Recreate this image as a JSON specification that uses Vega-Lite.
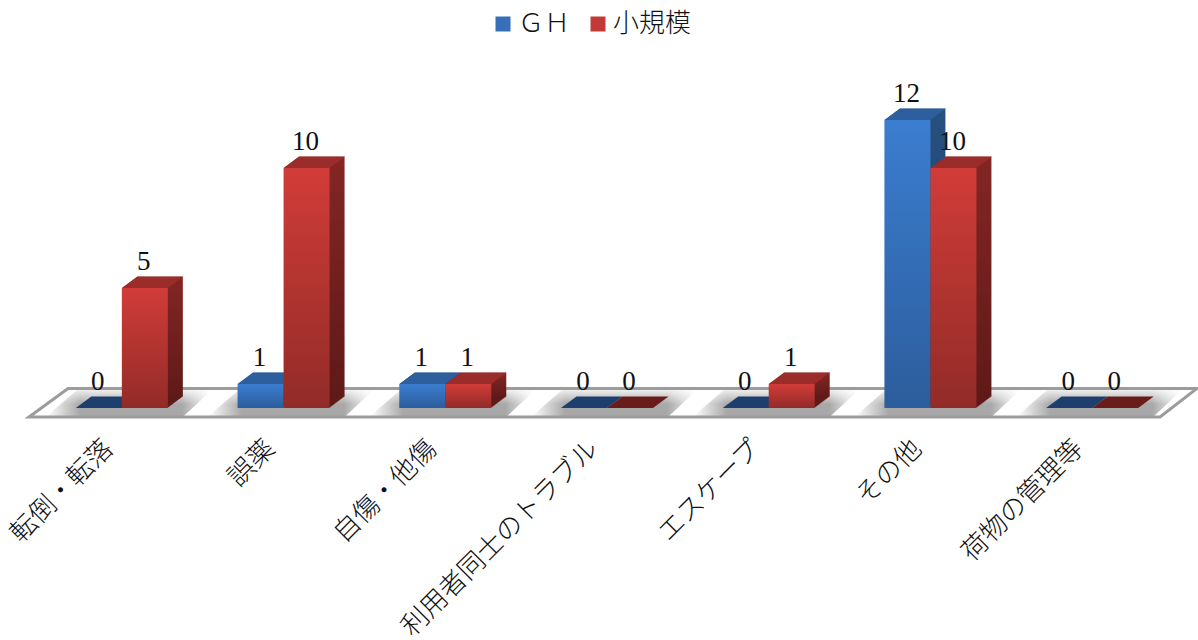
{"$schema":"https://vega.github.io/schema/vega-lite/v6.json","width":1132,"height":348,"autosize":{"type":"none"},"padding":{"left":41,"top":60,"right":25,"bottom":232},"background":"white","config":{"view":{"stroke":null}},"datasets":{"d":[{"c":"転倒・転落","s":"ＧＨ","v":0},{"c":"転倒・転落","s":"小規模","v":5},{"c":"誤薬","s":"ＧＨ","v":1},{"c":"誤薬","s":"小規模","v":10},{"c":"自傷・他傷","s":"ＧＨ","v":1},{"c":"自傷・他傷","s":"小規模","v":1},{"c":"利用者同士のトラブル","s":"ＧＨ","v":0},{"c":"利用者同士のトラブル","s":"小規模","v":0},{"c":"エスケープ","s":"ＧＨ","v":0},{"c":"エスケープ","s":"小規模","v":1},{"c":"その他","s":"ＧＨ","v":12},{"c":"その他","s":"小規模","v":10},{"c":"荷物の管理等","s":"ＧＨ","v":0},{"c":"荷物の管理等","s":"小規模","v":0}],"floor":[{"c":"利用者同士のトラブル","v":0}]},"data":{"name":"d"},"encoding":{"x":{"field":"c","type":"nominal","sort":null,"scale":{"domain":["転倒・転落","誤薬","自傷・他傷","利用者同士のトラブル","エスケープ","その他","荷物の管理等"],"paddingInner":0.431,"paddingOuter":0.2155},"axis":{"title":null,"domain":false,"ticks":false,"labelAngle":-45,"labelAlign":"right","labelBaseline":"middle","labelPadding":36,"labelOffset":-13,"labelFont":"Noto Sans CJK JP","labelFontSize":26.5,"labelFontWeight":300,"labelColor":"#111","labelLimit":400}},"y":{"field":"v","type":"quantitative","scale":{"domain":[0,14.5]},"axis":null},"xOffset":{"field":"s","type":"nominal","sort":["ＧＨ","小規模"],"scale":{"domain":["ＧＨ","小規模"]}}},"layer":[{"data":{"name":"floor"},"mark":{"type":"point","shape":"M-578,9L-539,-19.5L590,-19.5L553,9Z","size":4,"filled":true,"fill":"#fff","stroke":null,"opacity":1},"encoding":{"xOffset":{"value":46}}},{"transform":[{"filter":"datum.s=='ＧＨ'"}],"mark":{"type":"point","shape":"M-75,8L-45,-18L90,-18L62,8Z","size":4,"filled":true,"stroke":null,"opacity":1,"fill":{"gradient":"linear","x1":0,"y1":0,"x2":1,"y2":0,"stops":[{"offset":0,"color":"#ffffff"},{"offset":0.2,"color":"#a8a8a8"},{"offset":0.82,"color":"#a8a8a8"},{"offset":1,"color":"#ffffff"}]}},"encoding":{"xOffset":{"value":46},"y":{"datum":0,"type":"quantitative","scale":{"domain":[0,14.5]}}}},{"data":{"name":"floor"},"mark":{"type":"point","shape":"M-578,9L-539,-19.5L590,-19.5L553,9Z","size":4,"filled":true,"stroke":null,"opacity":1,"fill":{"gradient":"linear","x1":0,"y1":0,"x2":0,"y2":1,"stops":[{"offset":0,"color":"rgba(255,255,255,0.9)"},{"offset":0.55,"color":"rgba(255,255,255,0)"},{"offset":1,"color":"rgba(255,255,255,0)"}]}},"encoding":{"xOffset":{"value":46}}},{"data":{"name":"floor"},"mark":{"type":"point","shape":"M-578,9L-539,-19.5L590,-19.5L553,9Z","size":4,"filled":false,"stroke":"#9c9c9c","strokeWidth":3,"opacity":1,"fill":null},"encoding":{"xOffset":{"value":46}}},{"transform":[{"filter":"datum.s=='ＧＨ'&&datum.v>0"}],"encoding":{"fill":{"value":{"gradient":"linear","x1":0,"y1":0,"x2":0,"y2":1,"stops":[{"offset":0,"color":"#27507f"},{"offset":1,"color":"#1f4270"}]}}},"layer":[{"mark":{"type":"bar","width":46,"yOffset":-0.75},"encoding":{"xOffset":{"value":24}}},{"mark":{"type":"bar","width":46,"yOffset":-1.5},"encoding":{"xOffset":{"value":25}}},{"mark":{"type":"bar","width":46,"yOffset":-2.25},"encoding":{"xOffset":{"value":26}}},{"mark":{"type":"bar","width":46,"yOffset":-3},"encoding":{"xOffset":{"value":27}}},{"mark":{"type":"bar","width":46,"yOffset":-3.75},"encoding":{"xOffset":{"value":28}}},{"mark":{"type":"bar","width":46,"yOffset":-4.5},"encoding":{"xOffset":{"value":29}}},{"mark":{"type":"bar","width":46,"yOffset":-5.25},"encoding":{"xOffset":{"value":30}}},{"mark":{"type":"bar","width":46,"yOffset":-6},"encoding":{"xOffset":{"value":31}}},{"mark":{"type":"bar","width":46,"yOffset":-6.75},"encoding":{"xOffset":{"value":32}}},{"mark":{"type":"bar","width":46,"yOffset":-7.5},"encoding":{"xOffset":{"value":33}}},{"mark":{"type":"bar","width":46,"yOffset":-8.25},"encoding":{"xOffset":{"value":34}}},{"mark":{"type":"bar","width":46,"yOffset":-9},"encoding":{"xOffset":{"value":35}}},{"mark":{"type":"bar","width":46,"yOffset":-9.75},"encoding":{"xOffset":{"value":36}}},{"mark":{"type":"bar","width":46,"yOffset":-10.5},"encoding":{"xOffset":{"value":37}}},{"mark":{"type":"bar","width":46,"yOffset":-11.25},"encoding":{"xOffset":{"value":38}}}]},{"transform":[{"filter":"datum.s=='ＧＨ'"}],"mark":{"type":"point","shape":"M-23,0L23,0L38.5,-11.5L-7.5,-11.5Z","size":4,"filled":true,"stroke":null,"opacity":1},"encoding":{"fill":{"condition":{"test":"datum.v==0","value":"#1c3f6e"},"value":"#2d5f9e"}}},{"transform":[{"filter":"datum.s=='小規模'&&datum.v>0"}],"encoding":{"fill":{"value":{"gradient":"linear","x1":0,"y1":0,"x2":0,"y2":1,"stops":[{"offset":0,"color":"#832624"},{"offset":1,"color":"#5f1a18"}]}}},"layer":[{"mark":{"type":"bar","width":46,"yOffset":-0.75},"encoding":{"xOffset":{"value":70}}},{"mark":{"type":"bar","width":46,"yOffset":-1.5},"encoding":{"xOffset":{"value":71}}},{"mark":{"type":"bar","width":46,"yOffset":-2.25},"encoding":{"xOffset":{"value":72}}},{"mark":{"type":"bar","width":46,"yOffset":-3},"encoding":{"xOffset":{"value":73}}},{"mark":{"type":"bar","width":46,"yOffset":-3.75},"encoding":{"xOffset":{"value":74}}},{"mark":{"type":"bar","width":46,"yOffset":-4.5},"encoding":{"xOffset":{"value":75}}},{"mark":{"type":"bar","width":46,"yOffset":-5.25},"encoding":{"xOffset":{"value":76}}},{"mark":{"type":"bar","width":46,"yOffset":-6},"encoding":{"xOffset":{"value":77}}},{"mark":{"type":"bar","width":46,"yOffset":-6.75},"encoding":{"xOffset":{"value":78}}},{"mark":{"type":"bar","width":46,"yOffset":-7.5},"encoding":{"xOffset":{"value":79}}},{"mark":{"type":"bar","width":46,"yOffset":-8.25},"encoding":{"xOffset":{"value":80}}},{"mark":{"type":"bar","width":46,"yOffset":-9},"encoding":{"xOffset":{"value":81}}},{"mark":{"type":"bar","width":46,"yOffset":-9.75},"encoding":{"xOffset":{"value":82}}},{"mark":{"type":"bar","width":46,"yOffset":-10.5},"encoding":{"xOffset":{"value":83}}},{"mark":{"type":"bar","width":46,"yOffset":-11.25},"encoding":{"xOffset":{"value":84}}}]},{"transform":[{"filter":"datum.s=='小規模'"}],"mark":{"type":"point","shape":"M-23,0L23,0L38.5,-11.5L-7.5,-11.5Z","size":4,"filled":true,"stroke":null,"opacity":1},"encoding":{"fill":{"condition":{"test":"datum.v==0","value":"#6a1c1a"},"value":"#9a2c2a"}}},{"transform":[{"filter":"datum.v>0"}],"mark":{"type":"bar","opacity":0},"encoding":{"color":{"field":"s","type":"nominal","sort":["ＧＨ","小規模"],"scale":{"domain":["ＧＨ","小規模"],"range":["#3570b8","#c23a36"]},"legend":{"title":null,"orient":"none","legendX":449,"legendY":-49,"direction":"horizontal","labelFont":"Liberation Serif, Noto Sans CJK JP","labelFontSize":26,"labelFontWeight":300,"labelColor":"#111","labelOffset":2,"columnPadding":14,"symbolType":"square","symbolSize":225,"symbolOpacity":1,"symbolStrokeWidth":0}}}},{"transform":[{"filter":"datum.s=='ＧＨ'&&datum.v>0"}],"mark":{"type":"bar","fill":{"gradient":"linear","x1":0,"y1":0,"x2":0,"y2":1,"stops":[{"offset":0,"color":"#3b7dd0"},{"offset":1,"color":"#2c5d9c"}]}}},{"transform":[{"filter":"datum.s=='小規模'&&datum.v>0"}],"mark":{"type":"bar","fill":{"gradient":"linear","x1":0,"y1":0,"x2":0,"y2":1,"stops":[{"offset":0,"color":"#d13c38"},{"offset":1,"color":"#922b28"}]}}},{"mark":{"type":"text","dy":-26.5,"dx":-1,"font":"Liberation Serif","fontSize":27,"color":"#111"},"encoding":{"text":{"field":"v","type":"quantitative"}}}]}
